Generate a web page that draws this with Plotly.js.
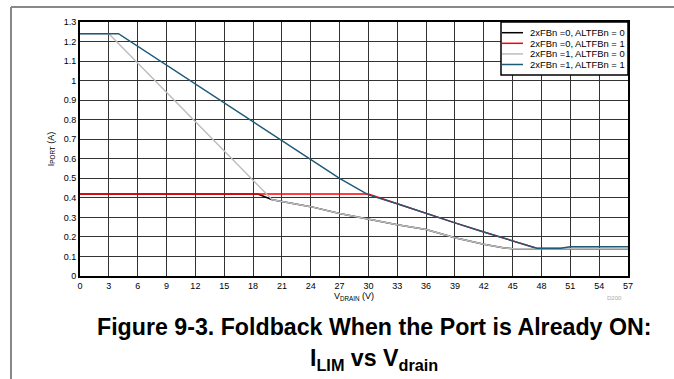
<!DOCTYPE html>
<html>
<head>
<meta charset="utf-8">
<script src="https://cdn.plot.ly/plotly-3.0.1.min.js"></script>
<style>html,body{margin:0;padding:0;background:#fff;}#chart{width:674px;height:379px;}</style>
</head>
<body>
<div id="chart"></div>
<script>
// Data
var seriesNames = ['2xFBn =0, ALTFBn = 0', '2xFBn =0, ALTFBn = 1', '2xFBn =1, ALTFBn = 0', '2xFBn =1, ALTFBn = 1'];

var blackX = [0, 18.5, 20, 24, 27, 30, 33, 36, 39, 42, 44, 45, 57];
var blackY = [0.42, 0.42, 0.39, 0.355, 0.32, 0.29, 0.262, 0.238, 0.196, 0.162, 0.144, 0.14, 0.14];

var redX = [0, 30, 33, 36, 39, 42, 45, 47.5, 57];
var redY = [0.42, 0.42, 0.37, 0.32, 0.272, 0.225, 0.18, 0.142, 0.14];

var grayX = [0, 3, 20, 24, 27, 30, 33, 36, 39, 42, 44, 45, 57];
var grayY = [1.24, 1.24, 0.39, 0.355, 0.32, 0.29, 0.262, 0.238, 0.196, 0.162, 0.144, 0.14, 0.14];

var blueX = [0, 4, 27, 30, 33, 36, 39, 42, 45, 47.5, 50, 51, 57];
var blueY = [1.24, 1.24, 0.5, 0.415, 0.37, 0.32, 0.272, 0.225, 0.18, 0.142, 0.142, 0.15, 0.15];

var xTicks = [0, 3, 6, 9, 12, 15, 18, 21, 24, 27, 30, 33, 36, 39, 42, 45, 48, 51, 54, 57];
var yTicks = [0, 0.1, 0.2, 0.3, 0.4, 0.5, 0.6, 0.7, 0.8, 0.9, 1, 1.1, 1.2, 1.3];

var FONT = 'Arial, "Liberation Sans", sans-serif';
var colors = ['#000000', '#ff0000', '#bdbdbd', '#1f5a78'];
var xs = [blackX, redX, grayX, blueX];
var ys = [blackY, redY, grayY, blueY];

var traces = seriesNames.map(function (n, i) {
  return {x: xs[i], y: ys[i], name: n, mode: 'lines', showlegend: false,
          line: {color: colors[i], width: 1.5}};
});

// plot area in pixels: l=80, t=22, w=548, h=254
function px2x(p) { return (p - 80) / 548; }
function px2y(p) { return (276 - p) / 254; }

var shapes = [
  {type: 'line', xref: 'paper', yref: 'paper', x0: px2x(11), x1: px2x(680), y0: px2y(7), y1: px2y(7), line: {color: '#888', width: 2}},
  {type: 'line', xref: 'paper', yref: 'paper', x0: px2x(11), x1: px2x(11), y0: px2y(7), y1: px2y(385), line: {color: '#888', width: 2}},
  // legend box
  {type: 'rect', xref: 'paper', yref: 'paper', x0: px2x(501), x1: px2x(628), y0: px2y(75), y1: px2y(22),
   fillcolor: '#ffffff', line: {color: '#000', width: 1.5}, layer: 'above'}
];
var annotations = [];
seriesNames.forEach(function (n, i) {
  var yy = 32.7 + 10.6 * i;
  shapes.push({type: 'line', xref: 'paper', yref: 'paper', x0: px2x(502), x1: px2x(523), y0: px2y(yy), y1: px2y(yy),
               line: {color: colors[i], width: 1.5}, layer: 'above'});
  annotations.push({xref: 'paper', yref: 'paper', x: px2x(527.5), y: px2y(yy), xanchor: 'left', yanchor: 'middle',
                    showarrow: false, text: n, font: {family: FONT, size: 9.4, color: '#000'}});
});

annotations.push(
  {xref: 'paper', yref: 'paper', x: 0.975, y: -0.087, xanchor: 'center', yanchor: 'middle', showarrow: false,
   text: 'D200', font: {family: FONT, size: 6, color: '#aaaaaa'}},
  {xref: 'paper', yref: 'paper', x: px2x(374), y: px2y(326.5), xanchor: 'center', yanchor: 'middle', showarrow: false,
   text: '<b>Figure 9-3. Foldback When the Port is Already ON:</b>', font: {family: FONT, size: 23.2, color: '#000'}},
  {xref: 'paper', yref: 'paper', x: px2x(374), y: px2y(359.5), xanchor: 'center', yanchor: 'middle', showarrow: false,
   text: '<b>I<sub>LIM</sub> vs V<sub>drain</sub></b>', font: {family: FONT, size: 23.2, color: '#000'}}
);

var layout = {
  width: 674, height: 379,
  margin: {l: 80, r: 46, t: 22, b: 103, pad: 0},
  paper_bgcolor: '#ffffff', plot_bgcolor: '#ffffff',
  font: {family: FONT, size: 9, color: '#000'},
  showlegend: false,
  xaxis: {
    range: [0, 57], tickvals: xTicks, ticktext: xTicks.map(String),
    showgrid: true, gridcolor: '#333333', gridwidth: 1,
    showline: true, linecolor: '#000', linewidth: 2, mirror: true,
    ticks: '', zeroline: false, tickfont: {family: FONT, size: 9},
    title: {text: 'V<sub>DRAIN</sub> (V)', font: {family: FONT, size: 9}, standoff: 2}
  },
  yaxis: {
    range: [0, 1.3], tickvals: yTicks, ticktext: yTicks.map(String),
    showgrid: true, gridcolor: '#333333', gridwidth: 1,
    showline: true, linecolor: '#000', linewidth: 2, mirror: true,
    ticks: '', zeroline: false, tickfont: {family: FONT, size: 9},
    title: {text: 'I<sub>PORT</sub> (A)', font: {family: FONT, size: 9}, standoff: 8}
  },
  shapes: shapes,
  annotations: annotations
};

Plotly.newPlot('chart', traces, layout, {displayModeBar: false, staticPlot: true});
</script>
</body>
</html>
